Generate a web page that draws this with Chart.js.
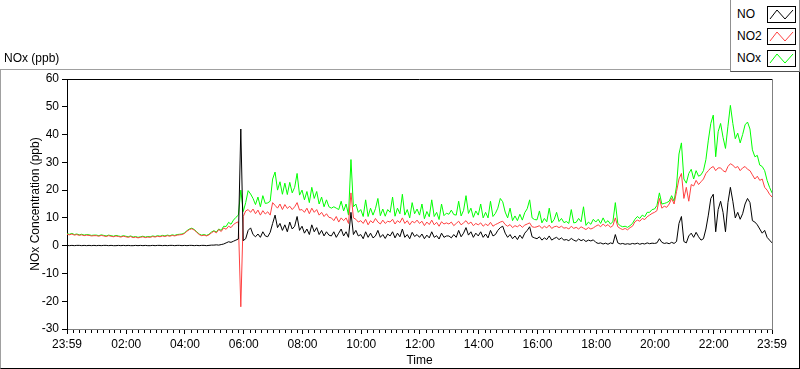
<!DOCTYPE html>
<html>
<head>
<meta charset="utf-8">
<script src="https://cdn.jsdelivr.net/npm/chart.js@4.4.0/dist/chart.umd.min.js"></script>
<style>
  body { margin: 0; width: 800px; height: 369px; position: relative; background: #fff; overflow: hidden;
         font-family: "Liberation Sans", Arial, sans-serif; font-size: 12px; color: #000; }
  #frame { position: absolute; left: 0; top: 69px; width: 798px; height: 298px;
           border-top: 1px solid #a0a0a0; border-left: 1px solid #a0a0a0;
           border-right: 1px solid #000; border-bottom: 1px solid #000; }
  #chart { position: absolute; left: 0; top: 0; }
  #unit { position: absolute; left: 4px; top: 51px; }
  #legend { position: absolute; left: 730px; top: -1px; width: 68px; height: 71px; background: #fff;
            border: 1px solid #909090; border-bottom-color: #505050; }
  .row { position: absolute; left: 6px; height: 17px; line-height: 17px; }
  .row svg { position: absolute; left: 30px; top: 0; }
</style>
</head>
<body>
<div id="frame"></div>
<canvas id="chart" width="800" height="369"></canvas>
<div id="unit">NOx (ppb)</div>
<div id="legend"></div>
<script>
// 5-minute samples starting at 23:59
const NO = [
  0.1,0.0,0.1,0.0,0.1,0.1,0.0,0.1,0.0,0.1,0.0,0.1,
  0.0,0.1,0.0,0.1,0.1,0.0,0.1,0.0,0.0,0.1,0.0,0.1,
  0.0,0.1,0.0,0.0,0.1,0.0,0.1,0.0,0.1,0.0,0.0,0.1,
  0.0,0.1,0.1,0.0,0.1,0.0,0.1,0.1,0.0,0.1,0.1,0.0,
  0.1,0.0,0.1,0.1,0.0,0.1,0.0,0.1,0.1,0.0,0.1,0.2,
  0.2,0.3,0.2,0.4,0.6,1.0,1.4,1.2,1.6,2.0,2.4,42,
  1.8,2.5,5.5,6.4,4.0,3.2,4.2,3.0,5.0,3.5,3.2,4.8,
  8.0,11.0,6.5,8.0,5.5,7.5,5.0,8.5,6.0,7.0,10.5,5.5,
  7.0,4.5,6.0,4.0,7.5,5.0,6.5,4.0,5.5,3.5,5.0,3.8,
  3.5,5.0,3.0,4.5,6.0,3.5,5.0,3.0,12.0,4.0,5.5,3.5,
  4.0,2.5,5.0,3.0,4.5,2.8,3.5,5.5,3.0,4.0,2.6,4.2,
  3.5,5.0,2.8,4.5,3.2,6.0,3.0,4.0,2.5,4.8,3.3,4.0,
  3.0,4.2,2.5,3.8,2.8,5.0,3.0,3.6,2.4,4.5,3.0,3.5,
  3.5,2.8,4.0,3.0,5.5,3.2,4.5,6.5,3.8,5.0,3.0,4.5,
  3.5,5.0,3.0,4.2,2.8,5.5,3.5,4.0,5.5,6.5,7.0,4.5,
  3.0,4.0,2.5,3.5,2.2,3.8,2.6,4.5,5.5,6.8,3.2,2.8,
  2.5,3.2,2.0,2.8,2.2,3.5,2.0,2.6,3.0,2.2,2.8,2.0,
  2.2,1.8,2.6,2.0,1.6,2.4,1.8,2.2,1.5,2.0,1.7,2.1,
  1.2,0.8,1.0,0.6,0.9,0.5,1.0,0.7,4.0,1.0,0.6,0.8,
  0.5,0.7,0.5,0.8,0.6,0.9,0.5,0.8,0.6,1.0,0.7,0.9,
  0.8,1.0,2.5,1.2,0.8,1.0,0.7,1.2,0.8,1.5,8.0,10.5,
  1.5,1.0,3.5,4.5,3.0,4.8,3.2,2.0,2.5,6.0,11.0,17.0,
  18.5,5.0,13.0,16.0,12.0,5.0,15.5,21.0,16.0,10.0,12.0,9.5,
  11.5,15.0,17.0,15.5,9.0,8.5,7.5,6.0,4.5,5.5,3.0,2.0,1.0
];
const NO2 = [
  4.1,3.9,4.2,3.8,4.0,3.7,3.9,3.6,3.8,3.7,3.5,3.6,
  3.6,3.4,3.7,3.5,3.3,3.6,3.4,3.2,3.5,3.3,3.1,3.4,
  3.2,3.0,3.3,2.9,3.1,2.8,3.0,3.2,2.9,3.1,3.0,3.3,
  3.1,3.4,3.2,3.5,3.3,3.6,3.4,3.7,3.5,3.8,3.9,4.0,
  4.4,5.2,5.8,6.1,5.6,4.8,4.0,3.6,3.8,3.5,3.9,4.6,
  5.2,4.6,5.8,5.1,6.4,5.9,7.0,6.5,7.6,8.2,8.6,-22,
  10.5,12.5,13.0,12.0,13.2,11.5,12.8,11.0,12.6,11.4,12.2,11.0,
  15.5,14.5,13.5,15.0,13.0,14.8,13.4,14.2,13.0,14.0,15.5,12.8,
  13.0,12.0,13.5,11.5,13.5,12.0,13.0,11.0,12.0,10.5,11.5,10.2,
  10.0,9.0,10.5,8.5,10.0,9.0,10.0,8.0,19.0,10.0,9.5,8.5,
  9.0,8.0,9.5,7.5,9.0,8.2,9.8,8.5,7.8,9.2,8.0,8.8,
  8.5,9.5,7.8,9.0,8.3,10.0,8.0,9.0,7.5,8.8,8.2,9.2,
  8.0,8.8,7.2,8.5,7.6,9.2,7.5,8.4,7.0,8.6,7.8,8.2,
  7.8,8.5,7.2,8.0,8.8,7.5,8.2,9.0,7.8,8.5,7.2,8.0,
  7.5,8.2,7.0,7.8,7.2,8.4,7.0,7.6,8.0,8.5,8.8,7.6,
  7.0,7.6,6.5,7.2,6.8,7.5,6.6,7.4,7.8,8.2,6.8,6.6,
  6.8,7.2,6.2,7.0,6.4,7.4,6.2,6.8,7.0,6.5,7.0,6.3,
  6.5,6.0,7.0,6.2,6.6,6.0,6.8,6.3,5.8,6.5,6.0,6.4,
  7.0,7.5,6.8,7.8,7.0,7.6,6.6,7.2,10.0,6.8,6.2,5.8,
  6.2,5.7,6.5,7.0,8.6,9.2,8.8,9.8,9.4,10.4,11.0,11.6,
  12.0,12.6,17.0,13.5,14.2,13.8,15.0,17.0,15.0,19.5,24.0,26.0,
  17.0,21.0,16.0,22.0,21.5,23.5,22.0,23.0,24.0,26.0,27.0,28.0,
  28.5,27.0,28.0,28.0,27.0,26.5,28.5,29.5,29.0,28.0,28.5,27.0,
  28.0,28.5,27.5,27.0,25.5,24.0,25.0,23.5,24.0,21.0,20.0,18.5,17.5
];
const NOX = [
  4.3,4.1,4.4,4.0,4.2,3.9,4.1,3.8,4.0,3.9,3.7,3.8,
  3.8,3.6,3.9,3.7,3.5,3.8,3.6,3.4,3.7,3.5,3.3,3.6,
  3.4,3.2,3.5,3.1,3.3,3.0,3.2,3.4,3.1,3.3,3.2,3.5,
  3.3,3.6,3.4,3.7,3.5,3.8,3.6,3.9,3.7,4.0,4.1,4.2,
  4.6,5.4,6.0,6.3,5.8,5.0,4.2,3.8,4.0,3.7,4.1,4.9,
  5.4,4.9,6.0,5.5,7.0,6.9,8.4,7.7,9.2,10.2,11.0,20.0,
  12.3,15.5,19.8,18.6,17.0,14.8,17.5,14.0,18.0,15.2,15.4,16.0,
  24.0,26.5,20.0,23.0,18.5,22.5,18.4,22.8,19.0,21.0,26.0,18.2,
  20.0,16.5,19.5,15.5,21.0,17.0,19.5,15.0,17.5,14.0,16.5,14.0,
  13.5,14.0,13.5,13.0,16.0,12.5,15.0,11.0,31.0,14.0,15.0,12.0,
  13.0,10.5,16.5,10.5,13.5,11.0,13.3,17.0,10.8,13.2,10.6,13.0,
  12.0,17.5,10.6,13.5,11.5,18.5,11.0,13.0,10.0,15.5,11.5,13.2,
  11.0,15.0,9.7,12.3,10.4,16.5,10.5,12.0,9.4,15.0,10.8,11.7,
  11.3,12.8,11.2,11.0,16.0,10.7,12.7,18.0,11.6,13.5,10.2,12.5,
  11.0,15.0,10.0,12.0,10.0,16.0,10.5,11.6,13.5,17.0,15.8,12.1,
  10.0,13.5,9.0,10.7,9.0,11.3,9.2,11.9,13.3,16.5,10.0,9.4,
  9.3,12.5,8.2,9.8,8.6,13.5,8.2,9.4,12.0,8.7,9.8,8.3,
  8.7,8.0,13.0,8.2,8.4,9.8,8.6,14.0,7.3,8.5,7.7,9.5,
  8.5,9.5,8.0,10.0,8.2,9.0,7.8,8.6,15.5,8.0,7.2,6.8,
  7.0,6.6,7.2,8.0,9.5,10.5,9.8,11.0,10.4,12.0,12.0,13.0,
  13.2,14.5,19.0,15.0,15.2,15.5,16.0,18.0,16.0,21.5,33.0,37.0,
  24.0,22.5,26.0,27.5,24.0,27.0,25.0,25.5,27.0,31.0,38.0,44.0,
  47.0,32.0,41.0,44.0,39.0,35.0,43.0,50.5,44.0,38.5,40.5,37.0,
  40.0,43.5,44.5,42.0,34.5,32.0,32.5,29.0,28.5,27.0,23.5,21.0,19.0
];

// x axis is minutes from midnight, run starts at 23:59 (-1)
const tickMinutes = [-1, 120, 240, 360, 480, 600, 720, 840, 960, 1080, 1200, 1320, 1439];
const tickLabels = ['23:59', '02:00', '04:00', '06:00', '08:00', '10:00', '12:00',
                    '14:00', '16:00', '18:00', '20:00', '22:00', '23:59'];
const seriesNames = ['NO', 'NO2', 'NOx'];
const seriesColors = ['#000000', '#ff4040', '#00ff00'];

const minutes = NO.map((v, i) => -1 + 5 * i);
const toPoints = (arr) => arr.map((v, i) => ({ x: minutes[i], y: v }));

// legend like the LabVIEW plot legend
const legend = document.getElementById('legend');
seriesNames.forEach((name, i) => {
  const row = document.createElement('div');
  row.className = 'row';
  row.style.top = (6 + i * 22) + 'px';
  row.innerHTML = name +
    '<svg width="29" height="17"><rect x="0.5" y="0.5" width="28" height="16" fill="#fff" stroke="#000"/>' +
    '<polyline points="3,13 10,4 18,13 26,4" fill="none" stroke="' + seriesColors[i] + '" stroke-width="1"/></svg>';
  legend.appendChild(row);
});

const plotFrame = {
  id: 'plotFrame',
  afterDraw(chart) {
    const { ctx, chartArea: a, scales: { x } } = chart;
    ctx.save();
    ctx.lineWidth = 1;
    ctx.strokeStyle = '#000';
    ctx.beginPath();
    ctx.moveTo(a.left, Math.round(a.top) + 0.5);
    ctx.lineTo(a.right, Math.round(a.top) + 0.5);
    ctx.stroke();
    ctx.strokeStyle = '#808080';
    ctx.beginPath();
    ctx.moveTo(Math.round(a.right) + 0.5, a.top);
    ctx.lineTo(Math.round(a.right) + 0.5, a.bottom);
    ctx.stroke();
    // minor ticks every 12 minutes
    ctx.strokeStyle = '#000';
    ctx.beginPath();
    for (let m = 12; m < 1439; m += 12) {
      if (m % 120 === 0) continue;
      const px = Math.round(x.getPixelForValue(m)) + 0.5;
      ctx.moveTo(px, Math.round(a.bottom) + 1);
      ctx.lineTo(px, Math.round(a.bottom) + 4);
    }
    ctx.stroke();
    ctx.restore();
  }
};

const font = { family: '"Liberation Sans", Arial, sans-serif', size: 12 };

new Chart(document.getElementById('chart'), {
  type: 'line',
  data: {
    datasets: [NO, NO2, NOX].map((arr, i) => ({
      label: seriesNames[i],
      data: toPoints(arr),
      borderColor: seriesColors[i],
      borderWidth: 1,
      pointRadius: 0,
      tension: 0,
    })),
  },
  options: {
    responsive: false,
    animation: false,
    layout: { padding: { left: 0, top: 79, right: 28, bottom: 0 } },
    plugins: { legend: { display: false }, tooltip: { enabled: false } },
    scales: {
      x: {
        type: 'linear',
        min: -1,
        max: 1439,
        afterBuildTicks: (scale) => {
          scale.ticks = tickMinutes.map((v) => ({ value: v }));
        },
        afterFit: (scale) => {
          scale.height = 40;
          scale.paddingLeft = 0;
          scale.paddingRight = 0;
        },
        ticks: {
          autoSkip: false,
          maxRotation: 0,
          padding: 3,
          color: '#000',
          font: font,
          callback: (value) => tickLabels[tickMinutes.indexOf(value)],
        },
        grid: { drawOnChartArea: false, drawTicks: true, tickLength: 5, tickColor: '#000' },
        border: { color: '#808080' },
        title: { display: true, text: 'Time', color: '#000', font: font, padding: { top: 0, bottom: 1 } },
      },
      y: {
        min: -30,
        max: 60,
        afterFit: (scale) => {
          scale.width = 67;
          scale.paddingTop = 0;
          scale.paddingBottom = 0;
        },
        ticks: { stepSize: 10, padding: 3, color: '#000', font: font },
        grid: { drawOnChartArea: false, drawTicks: true, tickLength: 5, tickColor: '#000' },
        border: { color: '#000' },
        title: { display: true, text: 'NOx Concentration (ppb)', color: '#000', font: font, padding: { top: 28, bottom: 0 } },
      },
    },
  },
  plugins: [plotFrame],
});
</script>
</body>
</html>
